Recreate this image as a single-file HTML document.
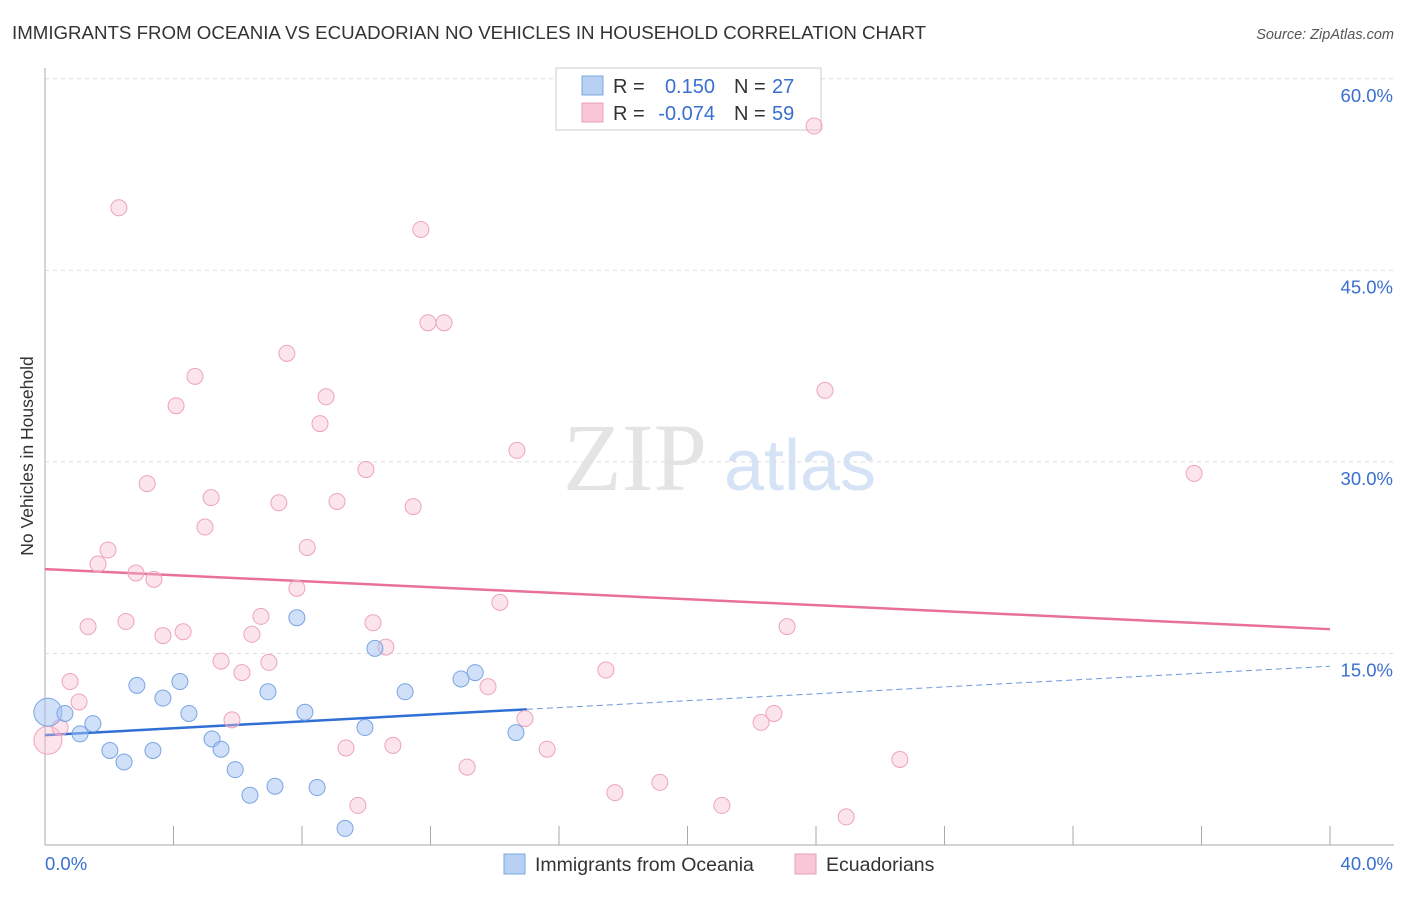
<!DOCTYPE html>
<html><head><meta charset="utf-8">
<style>
body{margin:0;background:#fff;font-family:"Liberation Sans",sans-serif;}
svg text{font-family:"Liberation Sans",sans-serif;}
</style></head>
<body>
<svg id="chart" width="1406" height="892">
<text x="12" y="39" font-size="18.7" fill="#333">IMMIGRANTS FROM OCEANIA VS ECUADORIAN NO VEHICLES IN HOUSEHOLD CORRELATION CHART</text>
<text x="1394" y="39" font-size="14.5" fill="#555" font-style="italic" text-anchor="end">Source: ZipAtlas.com</text>
<text x="33" y="456" font-size="17.5" fill="#333" text-anchor="middle" transform="rotate(-90 33 456)">No Vehicles in Household</text>
<g>
<text x="635" y="490" font-size="96" fill="#e4e4e4" font-family="Liberation Serif" text-anchor="middle" style="font-family:'Liberation Serif',serif">ZIP</text>
<text x="800" y="490" font-size="72" fill="#d6e2f5" text-anchor="middle">atlas</text>
</g>
<g id="grid"></g><g id="axes"></g>
<g>
<rect x="556" y="68" width="265" height="62" fill="#fff" stroke="#ccc"/>
<rect x="582" y="76" width="21" height="19" fill="#b8d0f4" stroke="#7da7e0"/>
<rect x="582" y="103" width="21" height="19" fill="#f8c6d6" stroke="#eaa0ba"/>
<text x="613" y="93" font-size="20" fill="#333">R =</text>
<text x="715" y="93" font-size="20" fill="#3a6fd0" text-anchor="end">0.150</text>
<text x="734" y="93" font-size="20" fill="#333">N =</text>
<text x="772" y="93" font-size="20" fill="#3a6fd0">27</text>
<text x="613" y="120" font-size="20" fill="#333">R =</text>
<text x="715" y="120" font-size="20" fill="#3a6fd0" text-anchor="end">-0.074</text>
<text x="734" y="120" font-size="20" fill="#333">N =</text>
<text x="772" y="120" font-size="20" fill="#3a6fd0">59</text>
</g>
<g id="lines"></g><g id="pts"></g>
<g>
<rect x="504" y="854" width="21" height="20" fill="#b8d0f4" stroke="#7da7e0"/>
<text x="535" y="871" font-size="19.5" fill="#333">Immigrants from Oceania</text>
<rect x="795" y="854" width="21" height="20" fill="#f8c6d6" stroke="#eaa0ba"/>
<text x="826" y="871" font-size="19.5" fill="#333">Ecuadorians</text>
</g>
</svg>
<script>
const yTicks=[15,30,45,60];
const xTickLabels=["0.0%","40.0%"];
const blueX=[0.09,0.62,1.09,1.49,2.02,2.46,2.86,3.36,3.67,4.20,4.48,5.20,5.48,5.92,6.38,6.94,7.16,7.84,8.09,8.47,9.34,9.96,10.27,11.21,12.95,13.39,14.66];
const blueY=[10.4,10.3,8.7,9.5,7.4,6.5,12.5,7.4,11.5,12.8,10.3,8.3,7.5,5.9,3.9,12.0,4.6,17.8,10.4,4.5,1.3,9.2,15.4,12.0,13.0,13.5,8.8];
const pinkX=[0.09,0.47,0.78,1.06,1.34,1.65,1.96,2.30,2.52,2.83,3.18,3.39,3.67,4.08,4.30,4.67,4.98,5.17,5.48,5.82,6.13,6.44,6.72,6.97,7.28,7.53,7.84,8.16,8.56,8.75,9.09,9.37,9.74,9.99,10.21,10.61,10.83,11.46,11.70,11.92,12.42,13.14,13.79,14.16,14.69,14.94,15.63,17.46,17.74,19.14,21.07,22.29,22.69,23.10,23.94,24.28,24.94,26.61,35.77];
const pinkY=[8.2,9.2,12.8,11.2,17.1,22.0,23.1,49.9,17.5,21.3,28.3,20.8,16.4,34.4,16.7,36.7,24.9,27.2,14.4,9.8,13.5,16.5,17.9,14.3,26.8,38.5,20.1,23.3,33.0,35.1,26.9,7.6,3.1,29.4,17.4,15.5,7.8,26.5,48.2,40.9,40.9,6.1,12.4,19.0,30.9,9.9,7.5,13.7,4.1,4.9,3.1,9.6,10.3,17.1,56.3,35.6,2.2,6.7,29.1];
const blueTrend=[8.6,14.0];
const pinkTrend=[21.6,16.9];
const blueSolidEnd=15.0;

const NS="http://www.w3.org/2000/svg";
const X=v=>45+v*32.125, Y=v=>845-v*12.77;
function mk(tag,attrs,parent){const e=document.createElementNS(NS,tag);for(const k in attrs)e.setAttribute(k,attrs[k]);document.getElementById(parent).appendChild(e);return e;}
yTicks.forEach(t=>{
 const l=mk('line',{x1:45,x2:1394,y1:Y(t),y2:Y(t),stroke:'#ddd','stroke-dasharray':'4 4'},'grid');
 
 
 const tx=mk('text',{x:1393,y:Y(t)+23,'font-size':18.5,fill:'#3a6fd0','text-anchor':'end'},'grid');
 tx.textContent=t.toFixed(1)+'%';
 
 
});
const ax=mk('line',{x1:45,x2:1394,y1:845,y2:845,stroke:'#aaa'},'axes');


const ay=mk('line',{x1:45,x2:45,y1:68,y2:845,stroke:'#aaa'},'axes');


for(let i=0;i<=10;i++){const t=mk('line',{x1:X(i*4),x2:X(i*4),y1:826,y2:845,stroke:'#aaa'},'axes');
 
 }
const l0=mk('text',{x:45,y:870,'font-size':18.5,fill:'#3a6fd0'},'axes');l0.textContent=xTickLabels[0];


const l1=mk('text',{x:1393,y:870,'font-size':18.5,fill:'#3a6fd0','text-anchor':'end'},'axes');l1.textContent=xTickLabels[1];


function pts(xs,ys,fill,stroke,name){xs.forEach((x,i)=>{const c=mk('circle',{cx:X(x),cy:Y(ys[i]),r:i==0?14:8,fill:fill,stroke:stroke,'stroke-width':1},'pts');
 
 });}
pts(pinkX,pinkY,'rgba(248,187,208,0.4)','#eea3bd','ecuadorian-point');
pts(blueX,blueY,'rgba(164,194,244,0.5)','#7aa5e2','oceania-point');
const bt=v=>blueTrend[0]+(blueTrend[1]-blueTrend[0])*v/40;
const pt=v=>pinkTrend[0]+(pinkTrend[1]-pinkTrend[0])*v/40;
const p1=mk('line',{x1:X(0),y1:Y(pt(0)),x2:X(40),y2:Y(pt(40)),stroke:'#e8709a','stroke-width':2.5},'lines');


const b1=mk('line',{x1:X(0),y1:Y(bt(0)),x2:X(blueSolidEnd),y2:Y(bt(blueSolidEnd)),stroke:'#2f6fd6','stroke-width':2.5},'lines');


const b2=mk('line',{x1:X(blueSolidEnd),y1:Y(bt(blueSolidEnd)),x2:X(40),y2:Y(bt(40)),stroke:'#6b97dc','stroke-width':1,'stroke-dasharray':'6 4'},'lines');


</script>
</body></html>
